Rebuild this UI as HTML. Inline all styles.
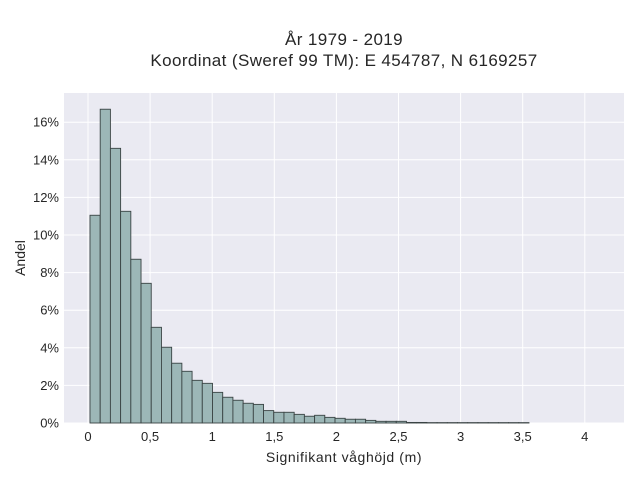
<!DOCTYPE html>
<html><head><meta charset="utf-8"><style>
body{margin:0;background:#fff;font-family:"Liberation Sans",sans-serif;}
svg text{font-family:"Liberation Sans",sans-serif;fill:#262626;}
</style></head><body>
<svg width="640" height="480">
<text x="344" y="45" font-size="17" letter-spacing="0.4" text-anchor="middle">År 1979 - 2019</text>
<text x="344" y="66" font-size="17" letter-spacing="0.4" text-anchor="middle">Koordinat (Sweref 99 TM): E 454787, N 6169257</text>
<rect x="64" y="93" width="560" height="330" fill="#eaeaf2"/>
<g id="grid"></g><g id="bars"></g><g id="ticks"></g>
<text x="344" y="462" font-size="14" letter-spacing="0.6" text-anchor="middle">Signifikant våghöjd (m)</text>
<text transform="translate(25,258) rotate(-90)" font-size="14" text-anchor="middle">Andel</text>
</svg>
<script>
const binStart = 0.016;
const binWidth = 0.0822;
const shares = [11.05,16.69,14.61,11.26,8.71,7.43,5.09,4.03,3.18,2.75,2.27,2.11,1.63,1.37,1.21,1.05,0.99,0.66,0.57,0.57,0.46,0.36,0.41,0.30,0.25,0.20,0.20,0.14,0.09,0.09,0.09,0.03,0.03,0.02,0.02,0.02,0.02,0.02,0.02,0.02,0.02,0.02,0.02];
const xTicks = [0,0.5,1,1.5,2,2.5,3,3.5,4];
const xTickLabels = ["0","0,5","1","1,5","2","2,5","3","3,5","4"];
const yTicks = [0,2,4,6,8,10,12,14,16];
const yTickLabels = ["0%","2%","4%","6%","8%","10%","12%","14%","16%"];
const NS="http://www.w3.org/2000/svg";
const X=v=>88+v*124.2;
const Y=v=>423-v*18.8;
const grid=document.getElementById('grid'),bars=document.getElementById('bars'),ticks=document.getElementById('ticks');
function mk(tag,attrs,parent){const e=document.createElementNS(NS,tag);for(const k in attrs)e.setAttribute(k,attrs[k]);parent.appendChild(e);return e;}
xTicks.forEach((t,i)=>{
  const l=mk('line',{x1:X(t),x2:X(t),y1:93,y2:423,stroke:'#fff','stroke-width':1},grid);
  
  
  const tx=mk('text',{x:X(t),y:441,'font-size':13,'text-anchor':'middle'},ticks);
  tx.textContent=xTickLabels[i];
  
  
});
yTicks.forEach((t,i)=>{
  const l=mk('line',{x1:64,x2:624,y1:Y(t),y2:Y(t),stroke:'#fff','stroke-width':1},grid);
  
  
  const tx=mk('text',{x:59,y:Y(t)+4.5,'font-size':13,'text-anchor':'end'},ticks);
  tx.textContent=yTickLabels[i];
  
  
});
shares.forEach((v,i)=>{
  const x0=X(binStart+i*binWidth),x1=X(binStart+(i+1)*binWidth);
  const r=mk('rect',{x:x0,y:Y(v),width:x1-x0,height:Y(0)-Y(v),fill:'#9cb7b7',stroke:'#3a4444','stroke-width':0.9},bars);
  
  
});
</script>
</body></html>
